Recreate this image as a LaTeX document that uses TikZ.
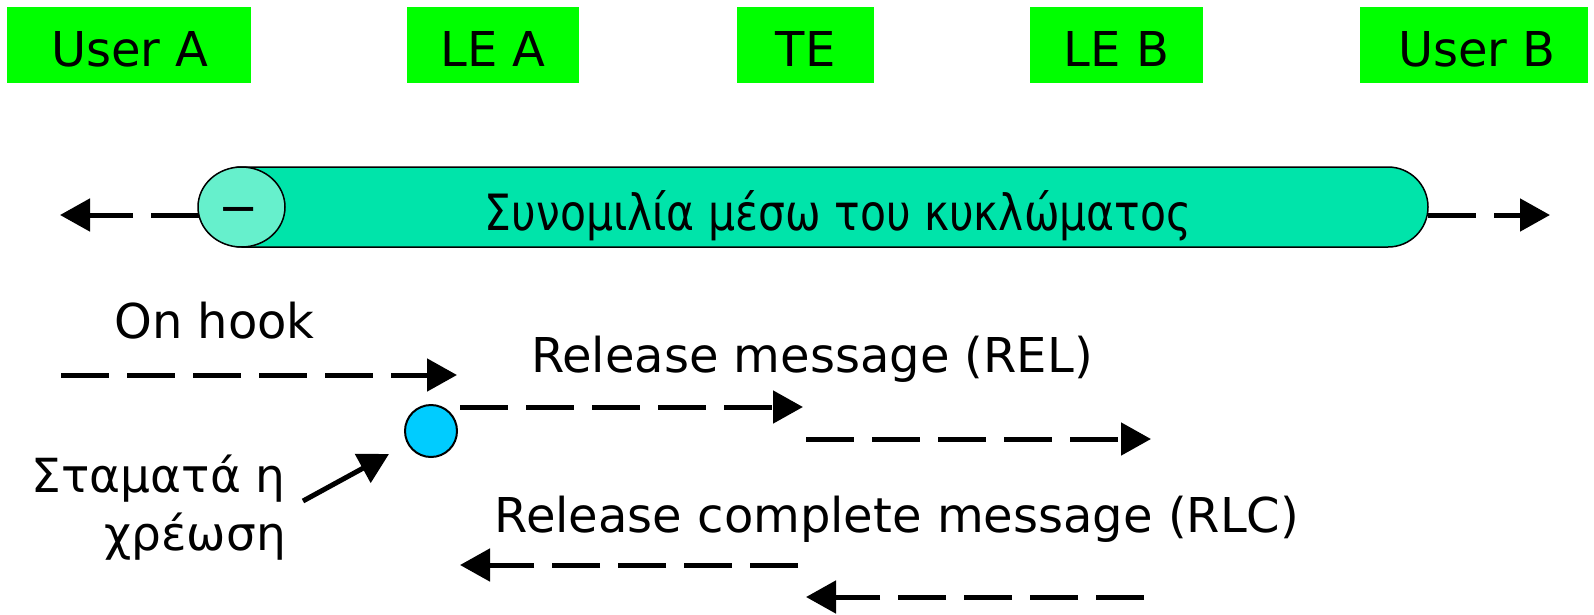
\documentclass[tikz,border=0pt]{standalone}
\usepackage{fontspec}
\setmainfont{DejaVu Sans}
\newfontfamily\condfont[FakeStretch=0.85]{DejaVu Sans}
\usetikzlibrary{arrows.meta,shapes.geometric}
\definecolor{hdrgreen}{RGB}{0,255,0}
\definecolor{pillgreen}{RGB}{0,228,170}
\definecolor{capgreen}{RGB}{102,240,204}
\definecolor{dotblue}{RGB}{0,204,255}
\begin{document}
\begin{tikzpicture}[x=1pt,y=-1pt,
  every node/.style={font=\fontsize{48}{57}\selectfont, inner sep=0pt},
  hdr/.style={fill=hdrgreen, minimum height=76pt, anchor=center},
  msg/.style={line width=5pt, dash pattern=on 48pt off 18pt, -{Triangle[length=30pt,width=32pt]}},
  solidarrow/.style={line width=5pt, -{Triangle[length=30pt,width=32pt]}},
  lbl/.style={anchor=base}]
\useasboundingbox (0,0) rectangle (1594,614);
% header boxes
\node[hdr, minimum width=244pt] (ua) at (129,45) {};
\node[lbl] (uat) at (130,66) {User A};
\node[hdr, minimum width=172pt] (lea) at (493,45) {};
\node[lbl] (leat) at (493,66) {LE A};
\node[hdr, minimum width=137pt] (te) at (805.5,45) {};
\node[lbl] (tet) at (805.5,66) {TE};
\node[hdr, minimum width=173pt] (leb) at (1116.5,45) {};
\node[lbl] (lebt) at (1116.5,66) {LE B};
\node[hdr, minimum width=228pt] (ub) at (1474,45) {};
\node[lbl] (ubt) at (1477,66) {User B};
% pill
\node[draw=black, line width=1.5pt, fill=pillgreen, rounded corners=40pt,
      minimum width=1226pt, minimum height=80pt] (pill) at (815,207) {};
\node[draw=black, line width=1.5pt, fill=capgreen, ellipse, minimum width=87pt, minimum height=80pt] (cap) at (241.5,207) {};
\node (capt) at (239,215.5) {−};
\node[lbl, font=\condfont\fontsize{50}{60}\selectfont] (pillt) at (838,230) {Συνομιλία μέσω του κυκλώματος};
\coordinate (lefttip) at (60,215);
\coordinate (righttip) at (1550,215);
\coordinate (capw) at (199,215);
\coordinate (pille) at (1428,215);
\draw[msg] (capw) -- (lefttip);
\draw[msg] (pille) -- (righttip);
% on hook
\node[lbl] (onhook) at (214.5,338) {On hook};
\coordinate (oh1) at (61,375);
\coordinate (oh2) at (457,375);
\draw[msg] (oh1) -- (oh2);
% charging stop point
\node[draw=black, line width=2pt, fill=dotblue, circle, minimum size=52pt] (dot) at (431,431) {};
\node[anchor=north east, align=right, font=\fontsize{47}{58}\selectfont] (charge) at (286,455) {Σταματά η\\χρέωση};
\coordinate (ch1) at (303,501);
\coordinate (ch2) at (389,454);
\draw[solidarrow] (ch1) -- (ch2);
% REL
\node[lbl] (rel) at (812,372) {Release message (REL)};
\coordinate (r1a) at (460,407);
\coordinate (r1b) at (803,407);
\coordinate (r2a) at (806,439);
\coordinate (r2b) at (1151,439);
\draw[msg] (r1a) -- (r1b);
\draw[msg] (r2a) -- (r2b);
% RLC
\node[lbl] (rlc) at (897,532) {Release complete message (RLC)};
\coordinate (c1a) at (798,565);
\coordinate (c1b) at (460,565);
\coordinate (c2a) at (1144,597);
\coordinate (c2b) at (806,597);
\draw[msg] (c1a) -- (c1b);
\draw[msg] (c2a) -- (c2b);
\end{tikzpicture}
\end{document}
